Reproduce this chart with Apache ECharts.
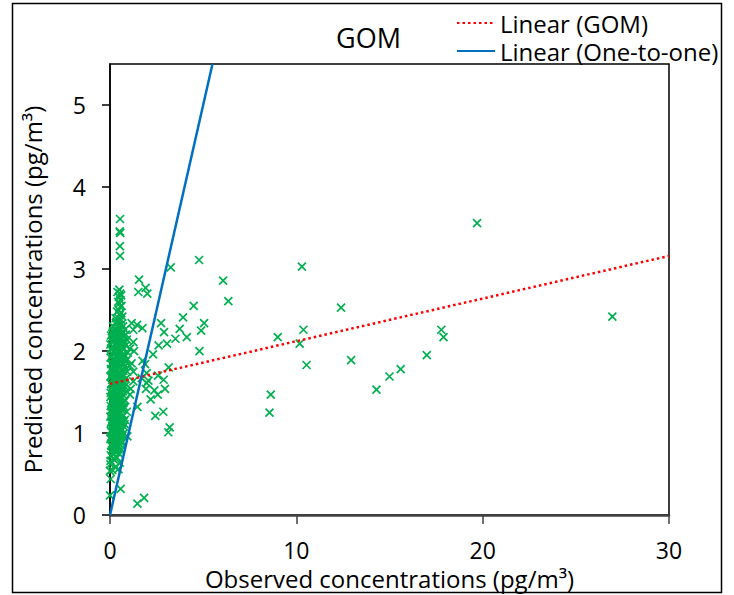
<!DOCTYPE html>
<html>
<head>
<meta charset="utf-8">
<script src="https://cdn.jsdelivr.net/npm/echarts@6/dist/echarts.min.js"></script>
<style>html,body{margin:0;padding:0;background:#fff;}#c{width:734px;height:595px;}</style>
</head>
<body>
<div id="c"></div>
<script>
// Observed (x) vs predicted (y) GOM concentrations, pg/m3
const gomPoints = [
  // far points
  [19.7,3.56],[10.3,3.03],[12.4,2.53],[9.0,2.17],[10.38,2.26],[10.18,2.09],[10.55,1.83],[12.94,1.89],
  [8.63,1.47],[8.56,1.25],[14.3,1.53],[15.0,1.69],[15.6,1.78],[17.0,1.95],[17.78,2.26],[17.9,2.17],[26.96,2.42],
  [4.78,3.11],[6.07,2.86],[6.35,2.61],[5.05,2.34],[4.89,2.25],[4.8,2.0],[3.26,3.02],[4.49,2.55],[3.92,2.41],
  [3.74,2.27],[4.12,2.17],[3.51,2.15],[3.06,2.09],
  // mid points
  [1.56,2.87],[1.52,2.72],[1.91,2.77],[2.0,2.70],[2.74,2.34],[2.9,2.23],[1.45,2.32],[1.74,2.28],[1.16,2.34],
  [1.25,2.26],[2.61,2.07],[1.29,2.0],[2.31,1.96],[1.75,1.88],[1.88,1.84],[3.15,1.80],[1.06,1.82],[2.58,1.70],
  [2.06,1.64],[2.88,1.65],[2.95,1.54],[1.11,1.54],[2.38,1.52],[1.93,1.54],[2.56,1.47],[2.18,1.41],[1.47,1.32],
  [2.43,1.21],[2.86,1.26],[3.2,1.07],[3.13,1.01],[0.93,0.96],[1.47,0.14],[1.83,0.21],[1.25,2.11],[1.07,2.03],
  [1.16,1.85],[1.25,1.75],[1.97,1.73],[1.7,1.67],[1.97,1.61],[1.25,1.63],[1.07,1.47],
  // dense column near x = 0
  [0.54,3.61],[0.52,3.46],[0.55,3.44],[0.53,3.28],[0.54,3.16],
  [0.50,2.75],[0.55,2.70],[0.48,2.66],[0.56,2.62],[0.50,2.58],[0.54,2.54],[0.47,2.50],[0.58,2.47],[0.52,2.44],
  [0.45,2.40],[0.60,2.38],[0.40,2.72],[0.60,2.68],[0.44,2.60],[0.62,2.55],[0.38,2.48],[0.66,2.42],[0.30,2.40],
  [0.35,2.36],[0.62,2.33],[0.42,2.31],[0.70,2.30],[0.28,2.28],[0.55,2.27],[0.80,2.26],[0.15,2.24],[0.48,2.23],
  [0.65,2.21],[0.33,2.20],[0.05,2.19],[0.75,2.18],[0.22,2.17],[0.58,2.16],[0.40,2.15],[0.90,2.14],[0.12,2.12],
  [0.68,2.11],[0.30,2.10],[0.52,2.09],[0.02,2.08],[0.84,2.07],[0.44,2.06],[0.18,2.05],[0.62,2.04],[0.36,2.03],
  [0.72,2.02],[0.08,2.01],[0.55,2.00],[0.26,1.99],[0.95,1.98],[0.46,1.97],[0.14,1.96],[0.66,1.95],[0.38,1.94],
  [0.78,1.93],[0.03,1.92],[0.58,1.91],[0.22,1.90],[0.50,1.89],[0.86,1.88],[0.32,1.87],[0.10,1.86],[0.70,1.85],
  [0.42,1.84],[0.60,1.83],[0.18,1.82],[0.80,1.81],[0.28,1.80],[0.48,1.79],[0.05,1.78],[0.66,1.77],[0.36,1.76],
  [0.92,1.75],[0.15,1.74],[0.56,1.73],[0.25,1.72],[0.74,1.71],[0.44,1.70],[0.02,1.69],[0.62,1.68],[0.34,1.67],
  [0.84,1.66],[0.12,1.65],[0.52,1.64],[0.20,1.63],[0.70,1.62],[0.40,1.61],[0.06,1.60],[0.58,1.59],[0.30,1.58],
  [0.78,1.57],[0.16,1.56],[0.48,1.55],[0.66,1.54],[0.38,1.53],[0.08,1.52],[0.88,1.51],[0.26,1.50],[0.56,1.49],
  [0.44,1.48],[0.14,1.47],[0.72,1.46],[0.34,1.45],[0.02,1.44],[0.62,1.43],[0.22,1.42],[0.50,1.41],[0.82,1.40],
  [0.30,1.39],[0.10,1.38],[0.68,1.37],[0.40,1.36],[0.18,1.35],[0.58,1.34],[0.04,1.33],[0.76,1.32],[0.28,1.31],
  [0.46,1.30],[0.14,1.29],[0.64,1.28],[0.36,1.27],[0.90,1.26],[0.08,1.25],[0.54,1.24],[0.24,1.23],[0.72,1.22],
  [0.42,1.21],[0.02,1.20],[0.60,1.19],[0.32,1.18],[0.16,1.17],[0.80,1.16],[0.48,1.15],[0.26,1.14],[0.06,1.13],
  [0.66,1.12],[0.38,1.11],[0.52,1.10],[0.12,1.09],[0.74,1.08],[0.30,1.07],[0.44,1.06],[0.20,1.05],[0.62,1.04],
  [0.04,1.03],[0.36,1.02],[0.56,1.01],[0.16,1.00],[0.70,0.99],[0.26,0.98],[0.46,0.97],[0.10,0.96],[0.60,0.95],
  [0.34,0.94],[0.02,0.93],[0.50,0.92],[0.22,0.91],[0.40,0.90],[0.64,0.89],[0.14,0.88],[0.30,0.87],[0.54,0.86],
  [0.06,0.85],[0.44,0.84],[0.18,0.83],[0.36,0.82],[0.58,0.80],[0.10,0.79],[0.28,0.77],[0.48,0.75],[0.04,0.73],
  [0.38,0.70],[0.20,0.68],[0.52,0.64],[0.02,0.62],[0.30,0.58],[0.12,0.55],[0.45,0.56],[0.0,0.54],[0.04,0.44],
  [0.57,0.32],[0.0,0.24],[0.03,0.66],[0.09,0.84],[0.45,0.80],[0.18,0.74],
  [0.20,2.25],[0.60,2.22],[0.38,2.19],[0.10,2.16],[0.72,2.13],[0.48,2.11],[0.25,2.08],[0.66,2.05],[0.05,2.03],
  [0.42,2.01],[0.30,1.98],[0.76,1.96],[0.52,1.93],[0.18,1.91],[0.62,1.88],[0.40,1.86],[0.07,1.84],[0.54,1.81],
  [0.24,1.79],[0.72,1.76],[0.34,1.74],[0.60,1.71],[0.10,1.69],[0.46,1.66],[0.28,1.64],[0.80,1.61],[0.52,1.58],
  [0.20,1.56],[0.38,1.54],[0.70,1.51],[0.04,1.49],[0.30,1.47],[0.58,1.44],[0.46,1.42],[0.14,1.40],[0.74,1.38],
  [0.26,1.36],[0.52,1.33],[0.64,1.31],[0.06,1.28],[0.40,1.26],[0.20,1.24],[0.68,1.21],[0.32,1.19],[0.56,1.17],
  [0.10,1.15],[0.44,1.13],[0.78,1.11],[0.24,1.09],[0.58,1.06],[0.14,1.04],[0.48,1.02],[0.30,0.99],[0.66,0.97],
  [0.06,0.95],[0.42,0.93],[0.54,0.90],[0.22,0.87],[0.12,1.71],[0.88,1.89],[0.85,2.20],[0.16,2.30],[0.32,2.34],[0.45,2.28],
  [0.36,2.24],[0.12,2.21],[0.52,2.18],[0.28,2.14],[0.78,2.10],[0.22,2.00],[0.48,1.95],[0.66,1.90],[0.30,1.83],
  [0.14,1.77],[0.50,1.72],[0.38,1.68],[0.64,1.63],[0.24,1.60],[0.44,1.57],[0.10,1.53],[0.60,1.50],[0.34,1.46],
  [0.20,1.43],[0.50,1.38],[0.32,1.34],[0.72,1.29],[0.12,1.27],[0.50,1.25],[0.28,1.21],[0.40,1.17],[0.68,1.14],
  [0.20,1.12],[0.34,1.08],[0.52,1.04],[0.08,1.01],[0.42,0.98],[0.18,0.94],[0.60,0.91],[0.32,0.89],[0.26,0.80]
];
// Trend lines (end points)
const gomFit = [[0, 1.60], [30, 3.16]];
const oneToOne = [[0, 0], [5.5, 5.5]];
const xTicks = [0, 10, 20, 30];
const yTicks = [0, 1, 2, 3, 4, 5];
const seriesNames = ['GOM', 'Linear (GOM)', 'Linear (One-to-one)'];

const FONT = '"Open Sans", sans-serif';
const chart = echarts.init(document.getElementById('c'), null, {renderer: 'svg'});
chart.setOption({
  animation: false,
  backgroundColor: '#fff',
  title: {
    text: 'GOM', left: 331, top: 19,
    textStyle: {fontFamily: FONT, fontSize: 27, fontWeight: 'normal', color: '#000'}
  },
  legend: {
    data: [seriesNames[1], seriesNames[2]],
    orient: 'vertical', left: 451, top: 6,
    itemWidth: 38, itemHeight: 14, itemGap: 4,
    itemStyle: {opacity: 0},
    textStyle: {fontFamily: FONT, fontSize: 24, color: '#000', lineHeight: 24}
  },
  grid: {left: 110, right: 65, top: 64, bottom: 77, show: true, borderColor: '#000', borderWidth: 1.5, containLabel: false},
  xAxis: {
    type: 'value', min: 0, max: 30, interval: 10,
    name: 'Observed concentrations (pg/m³)', nameLocation: 'middle', nameGap: 48,
    nameTextStyle: {fontFamily: FONT, fontSize: 24, color: '#000', lineHeight: 22},
    axisLine: {show: true, onZero: false, lineStyle: {color: '#404040', width: 2.5}},
    axisTick: {show: true, inside: false, length: 9, lineStyle: {color: '#404040', width: 1.5}, customValues: xTicks},
    axisLabel: {fontFamily: FONT, fontSize: 23, color: '#000', margin: 25, lineHeight: 19, customValues: xTicks},
    splitLine: {show: false}
  },
  yAxis: {
    type: 'value', min: 0, max: 5.5, interval: 1,
    name: 'Predicted concentrations (pg/m³)', nameLocation: 'middle', nameGap: 66,
    nameTextStyle: {fontFamily: FONT, fontSize: 24, color: '#000'},
    axisLine: {show: true, onZero: false, lineStyle: {color: '#000', width: 1.5}},
    axisTick: {show: true, inside: false, length: 8, lineStyle: {color: '#000', width: 1.5}, customValues: yTicks},
    axisLabel: {fontFamily: FONT, fontSize: 23, color: '#000', margin: 24, customValues: yTicks},
    splitLine: {show: false}
  },
  graphic: [{
    type: 'rect', silent: true, z: -1,
    shape: {x: 12.5, y: 3.5, width: 709, height: 589},
    style: {fill: 'none', stroke: '#000', lineWidth: 1.5}
  }],
  series: [
    {
      name: seriesNames[0], type: 'scatter', data: gomPoints,
      symbol: 'path://M0,0L10,10M10,0L0,10', symbolSize: 8,
      itemStyle: {color: '#00B050', borderColor: '#00B050', borderWidth: 1.7, opacity: 1},
      emphasis: {disabled: true}, silent: true, z: 2
    },
    {
      name: seriesNames[1], type: 'line', data: gomFit, symbol: 'none', showSymbol: false,
      lineStyle: {color: '#FF0000', width: 2.5, type: [2.5, 3]}, itemStyle: {color: '#FF0000'},
      silent: true, z: 3
    },
    {
      name: seriesNames[2], type: 'line', data: oneToOne, symbol: 'none', showSymbol: false,
      lineStyle: {color: '#0070C0', width: 2.5}, itemStyle: {color: '#0070C0'},
      silent: true, z: 4
    }
  ]
});
</script>
</body>
</html>
